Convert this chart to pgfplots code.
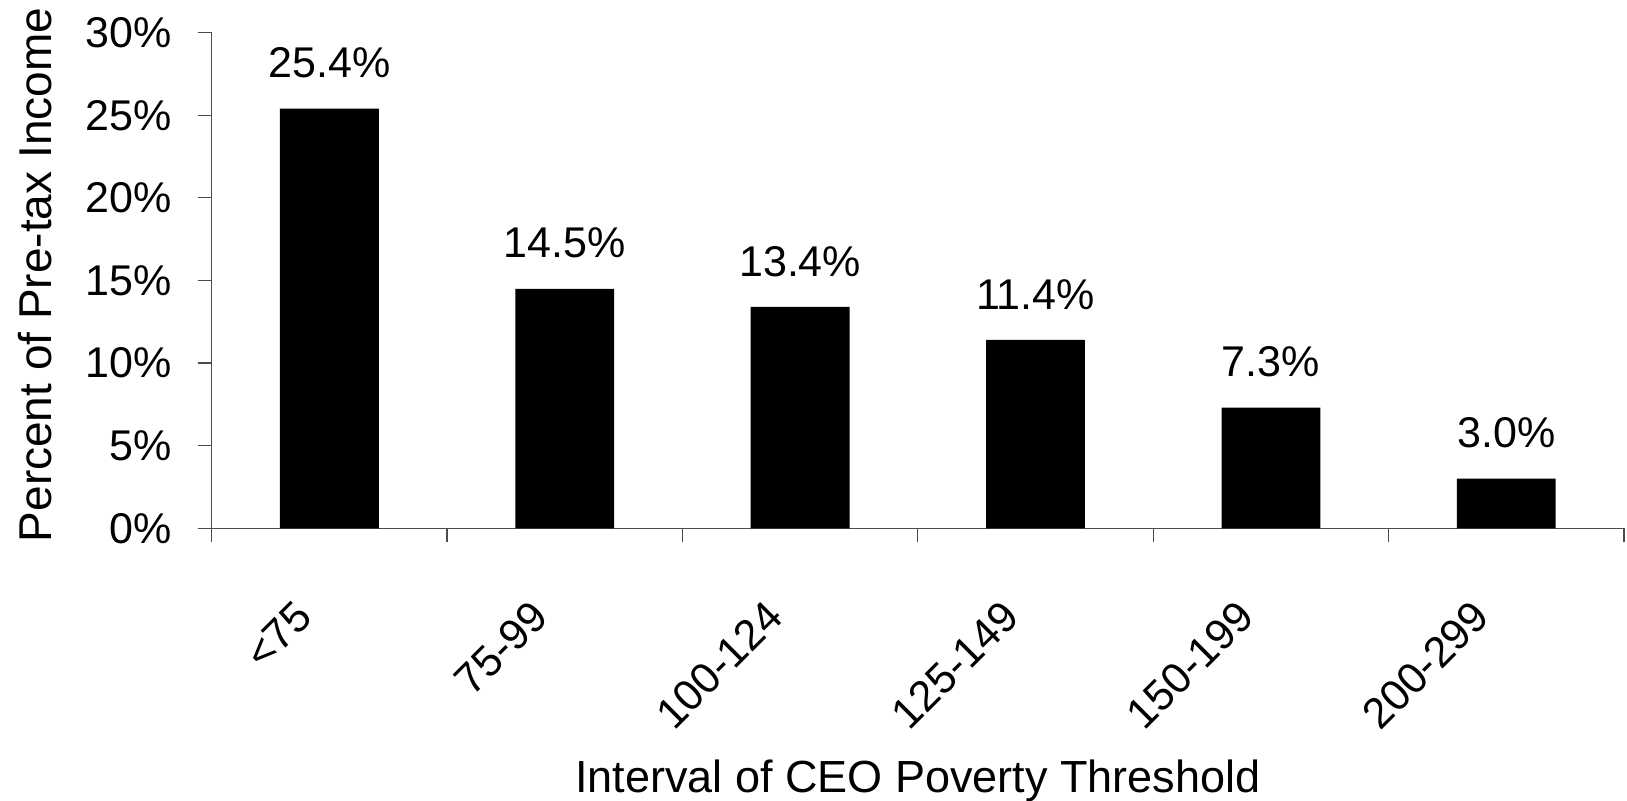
\documentclass[border=0pt]{standalone}
\usepackage{fontspec}
\setmainfont{Liberation Sans}
\usepackage{pgfplots}
\pgfplotsset{compat=1.18}
\newcommand{\chartfont}{\fontsize{21.5}{25}\selectfont}
\begin{document}
\begin{tikzpicture}
\begin{axis}[
  scale only axis,
  width=706.15pt, height=247.8pt,
  ybar, bar width=0.42,
  xmin=-0.5, xmax=5.5,
  ymin=0, ymax=30,
  enlargelimits=false,
  axis x line=bottom, axis y line=left,
  axis line style={-, black!70, line width=0.6pt},
  tick style={black!70, line width=0.6pt},
  tick align=outside,
  major tick length=7pt, minor tick length=7pt,
  xtick={0,1,2,3,4,5},
  xticklabels={{<75},{75-99},{100-124},{125-149},{150-199},{200-299}},
  minor xtick={-0.5,0.5,1.5,2.5,3.5,4.5,5.5},
  major x tick style={draw=none},
  ytick={0,5,10,15,20,25,30},
  yticklabels={0\%,5\%,10\%,15\%,20\%,25\%,30\%},
  tick label style={font=\chartfont},
  yticklabel style={xshift=-9.5pt},
  xticklabel style={xshift=-10pt, yshift=-31pt, rotate=45, anchor=east},
  xlabel={Interval of CEO Poverty Threshold},
  ylabel={Percent of Pre-tax Income},
  every axis x label/.style={at={(axis description cs:0.5,0)}, yshift=-132.2pt, anchor=base, font=\fontsize{22.5}{26}\selectfont},
  every axis y label/.style={at={(axis description cs:0,0.511)}, xshift=-88.3pt, rotate=90, anchor=center, font=\fontsize{23}{27}\selectfont},
  nodes near coords={\pgfmathprintnumber[fixed,fixed zerofill,precision=1,assume math mode=true]{\pgfplotspointmeta}\%},
  every node near coord/.append style={font=\chartfont, anchor=south, yshift=11.7pt, black},
]
\addplot[fill=black, draw=none] coordinates {
  (0,25.4) (1,14.5) (2,13.4) (3,11.4) (4,7.3) (5,3.0)
};
\end{axis}
\pgfresetboundingbox
\useasboundingbox (-105.85pt,-136.35pt) rectangle (707.65pt,264.15pt);
\end{tikzpicture}
\end{document}
